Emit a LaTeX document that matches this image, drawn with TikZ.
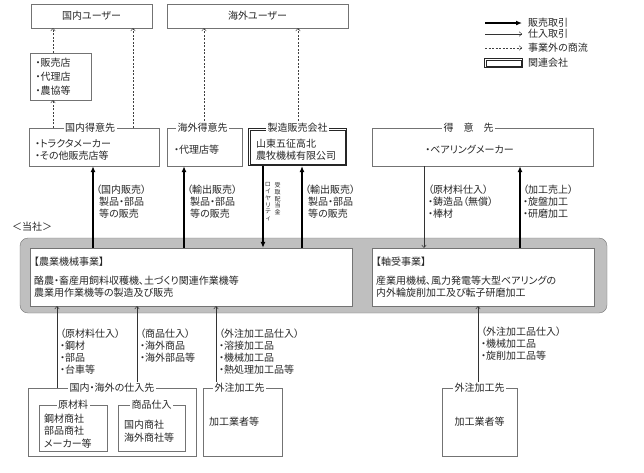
\documentclass[tikz,border=0pt]{standalone}
\usepackage{fontspec}
\setmainfont{Noto Sans CJK JP}[RawFeature=+palt]
\usetikzlibrary{arrows.meta,positioning}

\begin{document}
\begin{tikzpicture}[x=1pt, y=-1pt, font=\fontsize{10}{12}\selectfont, text=black!85,
    box/.style={draw=black!55, rectangle, inner sep=3pt, align=left},
    tbox/.style={box, execute at begin node={\rule{0pt}{14pt}}},
    ttl/.style={fill=white, inner sep=1.5pt},
    rel/.style={draw=black!85, line width=1.1pt},
    relin/.style={draw=black!85, line width=0.5pt},
    sale/.style={-{Latex[length=6pt,width=5pt]}, line width=1.5pt, draw=black},
    buy/.style={-{To[length=3pt,width=5pt]}, line width=0.5pt, draw=black!80},
    biz/.style={-{To[length=3pt,width=5pt]}, dash pattern=on 2pt off 1.5pt, line width=0.5pt, draw=black!75},
    lbl/.style={anchor=north west, align=left, inner sep=0pt, font=\fontsize{10}{11.8}\selectfont},
    vt/.style={anchor=north, align=center, inner sep=0pt, font=\fontsize{6}{6.9}\selectfont}]

\useasboundingbox (0,0) rectangle (644,472);

% users
\node[box, minimum width=121, minimum height=24] (domuser) at (91.5,16) {国内ユーザー};
\node[box, minimum width=181, minimum height=24] (ovuser) at (257.5,16) {海外ユーザー};
\node[box, minimum width=61, minimum height=47, text width=50, font=\fontsize{10}{14}\selectfont]
    (hanbai) at (60.5,76.5) {・販売店\\・代理店\\・農協等};

% customers
\node[tbox, minimum width=130, minimum height=38, text width=118] (kokunai) at (94,147)
    {・トラクタメーカー\\・その他販売店等};
\node[tbox, minimum width=75, minimum height=38, text width=61] (kaigai) at (204.5,147) {・代理店等};
\node[tbox, rel, minimum width=98, minimum height=37, text width=83] (seizo) at (297.5,147)
    {山東五征高北\\農牧機械有限公司};
\draw[relin] ([shift={(2.2pt,-2.2pt)}]seizo.north west) rectangle ([shift={(-2.2pt,2.2pt)}]seizo.south east);
\node[tbox, minimum width=221, minimum height=38, align=center] (tokui) at (482.5,147)
    {\hspace*{-26pt}・ベアリングメーカー};

% the company
\node[anchor=west, inner sep=0pt] (toshalbl) at (12,227) {＜当社＞};
\node[draw=black!55, fill=black!25, rounded corners=8pt, minimum width=587, minimum height=75]
    (tosha) at (313.5,275.5) {};
\node[box, fill=white, minimum width=322, minimum height=58, text width=314] (noki) at (191,277)
    {【農業機械事業】\\[7pt]酪農・畜産用飼料収穫機、土づくり関連作業機等\\農業用作業機等の製造及び販売};
\node[box, fill=white, minimum width=222, minimum height=58, text width=214] (jiku) at (483,277)
    {【軸受事業】\\[7pt]産業用機械、風力発電等大型ベアリングの\\内外輪旋削加工及び転子研磨加工};

% suppliers
\node[box, minimum width=168, minimum height=68] (shiire) at (112,422) {};
\node[tbox, minimum width=68, minimum height=46, text width=58, font=\fontsize{10}{12.5}\selectfont]
    (genzai) at (73,428) {鋼材商社\\部品商社\\メーカー等};
\node[tbox, minimum width=67, minimum height=46, text width=55, font=\fontsize{10}{13}\selectfont]
    (shohin) at (151.5,428) {国内商社\\海外商社等};
\node[box, minimum width=79, minimum height=68, text width=67] (gaichuA) at (242.5,422) {加工業者等};
\node[box, minimum width=75, minimum height=68, align=center] (gaichuB) at (479.5,422) {加工業者等};

% columns of the connectors
\coordinate (x1) at (53,0);  \coordinate (x2) at (133,0);
\coordinate (x3) at (204,0); \coordinate (x4) at (298,0);
\coordinate (c1) at (93,0);  \coordinate (c2) at (184,0);
\coordinate (c3) at (263,0); \coordinate (c4) at (302,0);
\coordinate (c5) at (424,0); \coordinate (c6) at (520,0);
\coordinate (b1) at (57,0);  \coordinate (b2) at (137,0);
\coordinate (b3) at (216,0); \coordinate (b4) at (478,0);

\draw[biz] (kokunai.north -| x1) -- (hanbai.south -| x1);
\draw[biz] (hanbai.north -| x1) -- (domuser.south -| x1);
\draw[biz] (kokunai.north -| x2) -- (domuser.south -| x2);
\draw[biz] (kaigai.north -| x3) -- (ovuser.south -| x3);
\draw[biz] (seizo.north -| x4) -- (ovuser.south -| x4);

\draw[sale] (noki.north -| c1) -- (kokunai.south -| c1);
\draw[sale] (noki.north -| c2) -- (kaigai.south -| c2);
\draw[sale] (seizo.south -| c3) -- (noki.north -| c3);
\draw[sale] (noki.north -| c4) -- (seizo.south -| c4);
\draw[buy] (tokui.south -| c5) -- (jiku.north -| c5);
\draw[sale] (jiku.north -| c6) -- (tokui.south -| c6);

\draw[buy] (shiire.north -| b1) -- (noki.south -| b1);
\draw[buy] (shiire.north -| b2) -- (noki.south -| b2);
\draw[buy] (gaichuA.north -| b3) -- (noki.south -| b3);
\draw[buy] (gaichuB.north -| b4) -- (jiku.south -| b4);

% titles on the borders
\node[ttl] (tkokunai) at ([xshift=-4pt]kokunai.north) {国内得意先};
\node[ttl] (tkaigai) at ([xshift=-2pt]kaigai.north) {海外得意先};
\node[ttl] (tseizo) at (seizo.north) {製造販売会社};
\node[ttl] (ttokui) at ([xshift=-14pt]tokui.north) {得　意　先};
\node[ttl] (tshiire) at (shiire.north) {国内・海外の仕入先};
\node[ttl] (tgenzai) at (genzai.north) {原材料};
\node[ttl] (tshohin) at (shohin.north) {商品仕入};
\node[ttl] (tgaichuA) at ([xshift=-3pt]gaichuA.north) {外注加工先};
\node[ttl] (tgaichuB) at (gaichuB.north) {外注加工先};

% labels of the flows
\node[lbl] (l1) at (96,185) {（国内販売）\\\hspace*{3pt}製品・部品\\\hspace*{3pt}等の販売};
\node[lbl] (l2) at (187,185) {（輸出販売）\\\hspace*{3pt}製品・部品\\\hspace*{3pt}等の販売};
\node[vt] (royalty) at (268,182) {ロ\\イ\\ヤ\\リ\\テ\\ィ};
\node[vt] (haito) at (277.5,182) {受\\取\\配\\当\\金};
\node[lbl] (l3) at (305,185) {（輸出販売）\\\hspace*{3pt}製品・部品\\\hspace*{3pt}等の販売};
\node[lbl] (l4) at (428,185) {（原材料仕入）\\・鋳造品（無償）\\・棒材};
\node[lbl] (l5) at (523,185) {（加工売上）\\・旋盤加工\\・研磨加工};
\node[lbl] (l6) at (60,329) {（原材料仕入）\\・鋼材\\・部品\\・台車等};
\node[lbl] (l7) at (140,329) {（商品仕入）\\・海外商品\\・海外部品等};
\node[lbl] (l8) at (219,329) {（外注加工品仕入）\\・溶接加工品\\・機械加工品\\・熱処理加工品等};
\node[lbl] (l9) at (481,327) {（外注加工品仕入）\\・機械加工品\\・旋削加工品等};

% legend
\node[anchor=west, inner sep=0pt] (lsale) at (528,23) {販売取引};
\node[anchor=west, inner sep=0pt] (lbuy) at (528,34) {仕入取引};
\node[anchor=west, inner sep=0pt] (lbiz) at (528,48) {事業外の商流};
\node[anchor=west, inner sep=0pt] (lrel) at (528,63) {関連会社};
\draw[sale] ([xshift=-43pt]lsale.west) -- ([xshift=-6pt]lsale.west);
\draw[buy] ([xshift=-43pt]lbuy.west) -- ([xshift=-6pt]lbuy.west);
\draw[biz] ([xshift=-43pt]lbiz.west) -- ([xshift=-6pt]lbiz.west);
\node[rel, minimum width=38, minimum height=9, inner sep=0pt, left=5pt of lrel] (relbox) {};
\draw[relin] ([shift={(2pt,-2pt)}]relbox.north west) rectangle ([shift={(-2pt,2pt)}]relbox.south east);

\end{tikzpicture}
\end{document}
